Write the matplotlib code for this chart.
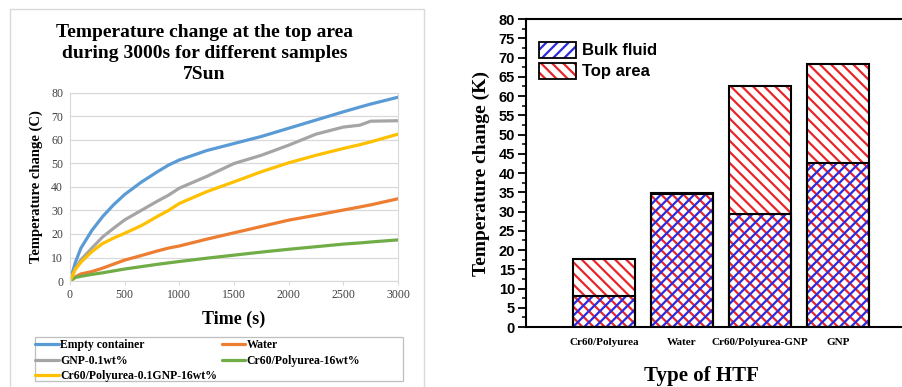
import matplotlib.pyplot as plt
from matplotlib.patches import Patch, Rectangle
from matplotlib.ticker import MultipleLocator

plt.rcParams['hatch.linewidth'] = 1.6

# left panel: temperature change at the top area
times = [0, 50, 100, 200, 300, 400, 500, 650, 800, 900, 1000, 1250, 1500,
         1750, 2000, 2250, 2500, 2650, 2750, 3000]
empty_container = [0, 8, 14, 21.5, 27.5, 32.5, 36.8, 42, 46.5, 49.3, 51.5, 55.5,
                   58.5, 61.5, 65, 68.5, 72, 74, 75.3, 78.2]
water = [0, 1.8, 3, 4, 5.5, 7.2, 8.9, 10.8, 12.8, 14, 14.9, 17.8, 20.5, 23.2,
         25.9, 28, 30.2, 31.5, 32.4, 35]
gnp = [0, 5.5, 9, 14, 18.8, 22.5, 26, 30, 34, 36.5, 39.5, 44.5, 50, 53.5, 57.8,
       62.5, 65.5, 66.3, 68, 68.2]
cr60_pu = [0, 1.5, 2, 2.8, 3.5, 4.3, 5.1, 6.1, 7.1, 7.7, 8.3, 9.7, 11, 12.3,
           13.5, 14.6, 15.7, 16.2, 16.6, 17.5]
cr60_pu_gnp = [0, 5, 8, 12.5, 16, 18.3, 20.3, 23.5, 27.5, 30, 33, 38, 42.2, 46.5,
               50.3, 53.5, 56.4, 58, 59.2, 62.5]
line_labels = ['Empty container', 'Water', 'GNP-0.1wt%', 'Cr60/Polyurea-16wt%',
               'Cr60/Polyurea-0.1GNP-16wt%']
line_colors = ['#5B9BD5', '#ED7D31', '#A5A5A5', '#70AD47', '#FFC000']

# right panel: bar chart
htf_types = ['Cr60/Polyurea', 'Water', 'Cr60/Polyurea-GNP', 'GNP']
bulk_fluid = [8.0, 34.5, 29.3, 42.6]
top_area = [17.6, 34.8, 62.5, 68.2]

serif = 'Liberation Serif'
sans = 'Liberation Sans'

fig = plt.figure(figsize=(9.03, 3.87), dpi=100)

# outer frame of the excel chart
fig.patches.append(Rectangle((10 / 903, -0.05), 414 / 903, 1 - 9 / 387 + 0.05,
                             transform=fig.transFigure, fill=False,
                             edgecolor='#D9D9D9', linewidth=1.0))
# frame of the excel legend
fig.patches.append(Rectangle((35 / 903, 1 - 381 / 387), 368 / 903, 44 / 387,
                             transform=fig.transFigure, fill=False,
                             edgecolor='#BFBFBF', linewidth=0.9))

ax1 = fig.add_axes([0.0775, 0.2739, 0.3633, 0.4858])
series = [empty_container, water, gnp, cr60_pu, cr60_pu_gnp]
handles = []
for vals, lab, col in zip(series, line_labels, line_colors):
    h, = ax1.plot(times, vals, color=col, linewidth=2.3, label=lab,
                  solid_capstyle='round')
    handles.append(h)
ax1.set_xlim(0, 3000)
ax1.set_ylim(0, 80)
ax1.set_xticks(range(0, 3001, 500))
ax1.set_yticks(range(0, 81, 10))
ax1.grid(axis='y', color='#D9D9D9', linewidth=0.9)
ax1.set_axisbelow(True)
for s in ax1.spines.values():
    s.set_color('#D9D9D9')
ax1.tick_params(axis='y', length=0, labelsize=8.5, labelcolor='#404040', pad=5)
ax1.tick_params(axis='x', length=3, color='#D9D9D9', labelsize=8.5,
                labelcolor='#404040', pad=3)
for lab in ax1.get_xticklabels() + ax1.get_yticklabels():
    lab.set_fontfamily(serif)
ax1.set_xlabel('Time (s)', fontfamily=serif, fontweight='bold', fontsize=13,
               labelpad=7)
ax1.set_ylabel('Temperature change (C)', fontfamily=serif, fontweight='bold',
               fontsize=10.5, labelpad=6)
ax1.set_title('Temperature change at the top area\nduring 3000s for different samples\n7Sun',
              fontfamily=serif, fontweight='bold', fontsize=14, linespacing=1.3,
              pad=10, x=0.41)

# excel fills the legend row by row; matplotlib fills column by column
order = [0, 2, 4, 1, 3]
fig.legend([handles[i] for i in order], [line_labels[i] for i in order],
           ncol=2, loc='upper left', bbox_to_anchor=(33 / 903, 1 - 337 / 387),
           prop={'family': serif, 'weight': 'bold', 'size': 8.5},
           frameon=False, handlelength=2.0, handletextpad=0.1,
           labelspacing=0.3, columnspacing=0.4, borderpad=0.2, borderaxespad=0)

# right panel
ax2 = fig.add_axes([0.5825, 0.155, 0.4319, 0.7959])
x = list(range(1, len(htf_types) + 1))
ax2.bar(x, top_area, 0.8, facecolor='white', edgecolor='#E8262A', hatch='\\\\\\',
        linewidth=0)
ax2.bar(x, bulk_fluid, 0.8, facecolor='none', edgecolor='#2A2AE0', hatch='///',
        linewidth=0)
ax2.bar(x, top_area, 0.8, fill=False, edgecolor='black', linewidth=1.5)
ax2.bar(x, bulk_fluid, 0.8, fill=False, edgecolor='black', linewidth=1.5)
ax2.set_xlim(0, 5)
ax2.set_ylim(0, 80)
ax2.yaxis.set_major_locator(MultipleLocator(5))
ax2.yaxis.set_minor_locator(MultipleLocator(2.5))
ax2.set_xticks(x)
ax2.set_xticklabels(htf_types, fontfamily=serif, fontweight='bold', fontsize=8)
ax2.tick_params(axis='x', length=0, pad=8)
ax2.tick_params(axis='y', which='major', length=6, width=1.3, labelsize=10.5, pad=2)
ax2.tick_params(axis='y', which='minor', length=3, width=1.1)
for lab in ax2.get_yticklabels():
    lab.set_fontfamily(sans)
    lab.set_fontweight('bold')
for s in ax2.spines.values():
    s.set_linewidth(1.5)
ax2.set_ylabel('Temperature change (K)', fontfamily=serif, fontweight='bold',
               fontsize=14, labelpad=6)
ax2.set_xlabel('Type of HTF', fontfamily=serif, fontweight='bold', fontsize=15)
ax2.xaxis.set_label_coords(0.45, -0.125)

outline = Patch(facecolor='none', edgecolor='black', linewidth=1.3)
blue_patch = Patch(facecolor='white', edgecolor='#2A2AE0', hatch='///', linewidth=0)
red_patch = Patch(facecolor='white', edgecolor='#E8262A', hatch='\\\\\\', linewidth=0)
ax2.legend([(blue_patch, outline), (red_patch, outline)], ['Bulk fluid', 'Top area'],
           loc='upper left', bbox_to_anchor=(-0.005, 0.975), frameon=False,
           prop={'family': sans, 'weight': 'bold', 'size': 12},
           handlelength=2.2, handleheight=1.1, handletextpad=0.4, labelspacing=0.25)

fig.savefig('out.png', dpi=100)
